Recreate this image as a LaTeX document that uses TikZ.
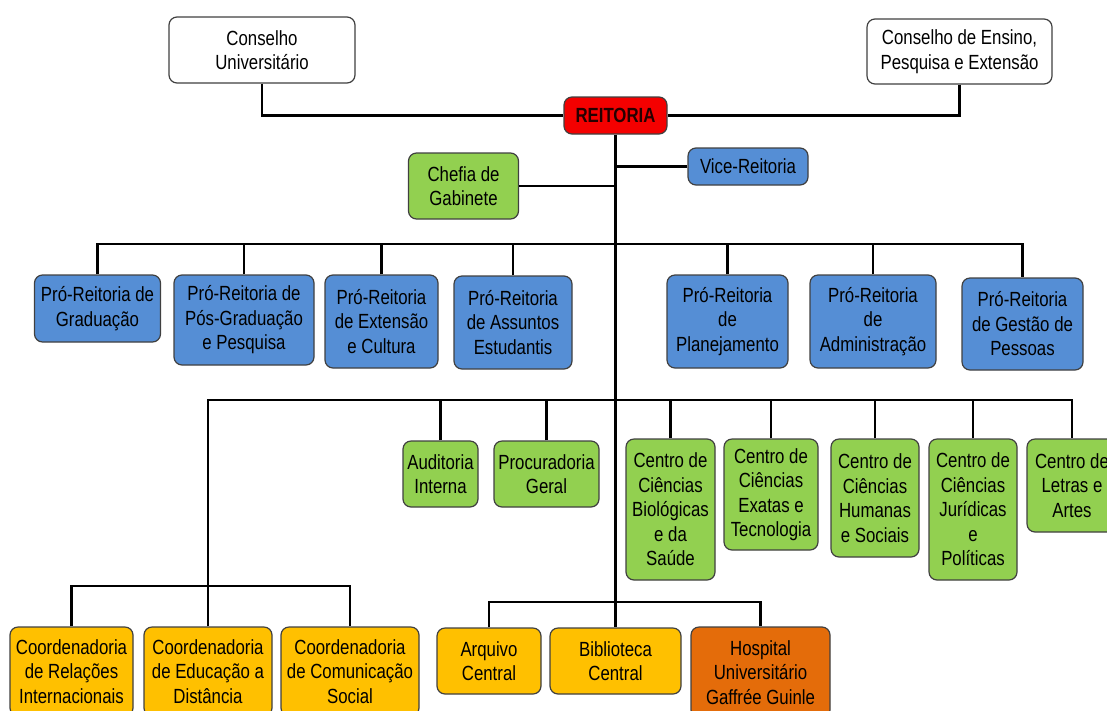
\documentclass[tikz,border=0pt]{standalone}
\usepackage{fontspec}
\setmainfont{Liberation Sans}[FakeStretch=0.82]
\usepackage{tikz}
\definecolor{redbox}{HTML}{F40000}
\definecolor{bluebox}{HTML}{558ED5}
\definecolor{greenbox}{HTML}{92D050}
\definecolor{yellowbox}{HTML}{FFC000}
\definecolor{orangebox}{HTML}{E46C0A}

\begin{document}
\begin{tikzpicture}[x=1pt,y=-1pt]
\tikzstyle{every node}=[font=\fontsize{20.5}{24.5}\selectfont, align=center, inner sep=0pt]
\tikzstyle{box}=[draw=black!75, line width=1.2pt, rounded corners=8pt]
\tikzstyle{wbox}=[box, fill=white]
\tikzstyle{rbox}=[box, fill=redbox, font=\fontsize{20.5}{24.5}\selectfont\bfseries, text=black!85!red]
\tikzstyle{bbox}=[box, fill=bluebox]
\tikzstyle{gbox}=[box, fill=greenbox]
\tikzstyle{ybox}=[box, fill=yellowbox]
\tikzstyle{obox}=[box, fill=orangebox]
\tikzstyle{link}=[line width=2.2pt]
%\draw [gray!30,step=50] (0,0) grid (1107,710);
\useasboundingbox (0,0) rectangle (1107,710);

\node (CU) at (262,50) [wbox, minimum width=186, minimum height=66] {Conselho\\Universitário};
\node (CE) at (959.5,51.5) [wbox, minimum width=185, minimum height=65] {Conselho de Ensino,\\Pesquisa e Extensão};
\node (R) at (615.5,115.5) [rbox, minimum width=103, minimum height=37] {REITORIA};
\node (VR) at (748,166.5) [bbox, minimum width=120, minimum height=37] {Vice-Reitoria};
\node (CG) at (463.5,186) [gbox, minimum width=110, minimum height=66] {Chefia de\\Gabinete};

\node (P1) at (97.5,308.5) [bbox, minimum width=126, minimum height=67] {Pró-Reitoria de\\Graduação};
\node (P2) at (244,320) [bbox, minimum width=140, minimum height=90] {Pró-Reitoria de\\Pós-Graduação\\e Pesquisa};
\node (P3) at (381.5,321.5) [bbox, minimum width=113, minimum height=93] {Pró-Reitoria\\de Extensão\\e Cultura};
\node (P4) at (513,322.5) [bbox, minimum width=118, minimum height=93] {Pró-Reitoria\\de Assuntos\\Estudantis};
\node (P5) at (727.5,321.5) [bbox, minimum width=121, minimum height=93] {Pró-Reitoria\\de\\Planejamento};
\node (P6) at (873,321.5) [bbox, minimum width=126, minimum height=93] {Pró-Reitoria\\de\\Administração};
\node (P7) at (1022.5,324) [bbox, minimum width=121, minimum height=92] {Pró-Reitoria\\de Gestão de\\Pessoas};

\node (AI) at (440.5,474) [gbox, minimum width=75, minimum height=66] {Auditoria\\Interna};
\node (PG) at (546.5,474) [gbox, minimum width=105, minimum height=66] {Procuradoria\\Geral};
\node (C1) at (670.5,509.5) [gbox, minimum width=89, minimum height=141] {Centro de\\Ciências\\Biológicas\\e da\\Saúde};
\node (C2) at (771,494.5) [gbox, minimum width=94, minimum height=111] {Centro de\\Ciências\\Exatas e\\Tecnologia};
\node (C3) at (875,498) [gbox, minimum width=88, minimum height=118] {Centro de\\Ciências\\Humanas\\e Sociais};
\node (C4) at (973,509.5) [gbox, minimum width=88, minimum height=141] {Centro de\\Ciências\\Jurídicas\\e\\Políticas};
\node (C5) at (1072,485.5) [gbox, minimum width=90, minimum height=93] {Centro de\\Letras e\\Artes};

\node (K1) at (71.5,671.5) [ybox, minimum width=123, minimum height=89] {Coordenadoria\\de Relações\\Internacionais};
\node (K2) at (208,671.5) [ybox, minimum width=128, minimum height=89] {Coordenadoria\\de Educação a\\Distância};
\node (K3) at (350,671.5) [ybox, minimum width=138, minimum height=89] {Coordenadoria\\de Comunicação\\Social};
\node (Arq) at (489,661) [ybox, minimum width=104, minimum height=66] {Arquivo\\Central};
\node (Bib) at (615.5,661) [ybox, minimum width=131, minimum height=66] {Biblioteca\\Central};
\node (Hosp) at (760.5,672.5) [obox, minimum width=139, minimum height=91] {Hospital\\Universitário\\Gaffrée Guinle};

\coordinate (PB) at (615.5,244);
\coordinate (GB) at (615.5,400);
\coordinate (LB) at (208,586);
\coordinate (HB) at (615.5,602);

\draw [link] (CU.south) |- (R.west);
\draw [link] (CE.south) |- (R.east);
\draw [link] (R.south) -- (Bib.north);
\draw [link] (VR.west) -- (VR.west -| R.south);
\draw [link] (CG.east) -- (CG.east -| R.south);
\draw [link] (P1.north) |- (PB) -| (P7.north);
\foreach \n in {P2,P3,P4,P5,P6}
  \draw [link] (\n.north) -- (\n.north |- PB);
\draw [link] (K2.north) |- (GB) -| (C5.north);
\foreach \n in {AI,PG,C1,C2,C3,C4}
  \draw [link] (\n.north) -- (\n.north |- GB);
\draw [link] (K1.north) |- (LB) -| (K3.north);
\draw [link] (Arq.north) |- (HB) -| (Hosp.north);
\end{tikzpicture}
\end{document}
